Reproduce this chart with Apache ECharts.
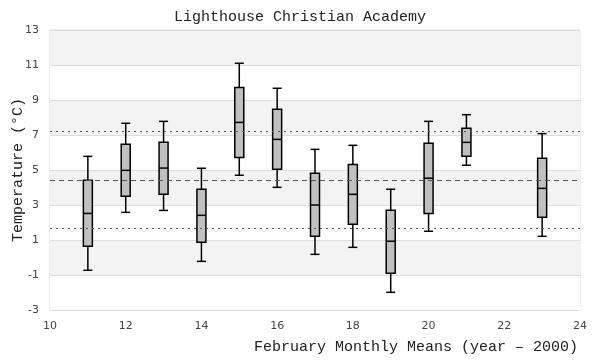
<!DOCTYPE html>
<html><head><meta charset="utf-8">
<script src="https://cdn.jsdelivr.net/npm/echarts@6/dist/echarts.min.js"></script>
<style>html,body{margin:0;padding:0;background:#fff}#c{width:600px;height:360px}</style>
</head><body><div id="c"></div>
<script>
var years = [11, 12, 13, 14, 15, 16, 17, 18, 19, 20, 21, 23];
var whiskerLow = [-0.73, 2.58, 2.69, -0.22, 4.70, 4.01, 0.18, 0.58, -1.99, 1.50, 5.27, 1.21];
var q1 = [0.64, 3.50, 3.61, 0.87, 5.72, 5.04, 1.21, 1.90, -0.90, 2.52, 5.78, 2.30];
var median = [2.52, 4.98, 5.11, 2.41, 7.72, 6.75, 3.00, 3.61, 0.93, 4.53, 6.58, 3.95];
var q3 = [4.41, 6.47, 6.58, 3.90, 9.72, 8.47, 4.81, 5.32, 2.70, 6.53, 7.38, 5.67];
var whiskerHigh = [5.78, 7.67, 7.78, 5.10, 11.10, 9.67, 6.18, 6.41, 3.90, 7.78, 8.16, 7.08];
var meanLine = 4.41;
var upperLine = 7.21;
var lowerLine = 1.67;

var data = years.map(function (y, i) {
  return [y, whiskerLow[i], q1[i], median[i], q3[i], whiskerHigh[i]];
});

var chart = echarts.init(document.getElementById('c'), null, {renderer: 'canvas'});
var mono = 'Liberation Mono';
chart.setOption({
  animation: false,
  title: [{
    text: 'Lighthouse Christian Academy', left: 'center', top: 5,
    textStyle: {fontFamily: mono, fontSize: 15, fontWeight: 'normal', color: '#222'}
  }, {
    text: 'February Monthly Means (year \u2013 2000)', right: 22, top: 340,
    padding: 0,
    textStyle: {fontFamily: mono, fontSize: 15, fontWeight: 'normal', color: '#222'}
  }],
  grid: {left: 50, right: 20, top: 30, bottom: 50, show: true, borderColor: '#ddd', borderWidth: 1,
    backgroundColor: 'transparent', outerBoundsMode: 'none', containLabel: false},
  xAxis: {
    type: 'value', min: 10, max: 24, interval: 2,
    axisLine: {show: false}, axisTick: {show: false}, splitLine: {show: false},
    axisLabel: {color: '#444', fontSize: 11, fontFamily: 'DejaVu Sans', margin: 11}
  },
  yAxis: {
    type: 'value', min: -3, max: 13, interval: 2,
    name: 'Temperature (\u00b0C)', nameLocation: 'middle', nameGap: 24, nameMoveOverlap: false,
    nameTextStyle: {fontFamily: mono, fontSize: 15, color: '#222'},
    axisLine: {show: false}, axisTick: {show: false},
    splitLine: {show: true, lineStyle: {color: '#ddd', width: 1}},
    splitArea: {show: true, areaStyle: {color: ['#ffffff', '#f3f3f3']}},
    axisLabel: {color: '#444', fontSize: 11, fontFamily: 'DejaVu Sans', margin: 11}
  },
  series: [{
    type: 'custom',
    data: data,
    encode: {x: 0, y: [1, 2, 3, 4, 5]},
    markLine: {
      silent: true, symbol: 'none', label: {show: false},
      data: [
        {yAxis: meanLine, lineStyle: {type: [5, 4], color: '#555', width: 1}},
        {yAxis: upperLine, lineStyle: {type: [2, 4], color: '#555', width: 1}},
        {yAxis: lowerLine, lineStyle: {type: [2, 4], color: '#555', width: 1}}
      ]
    },
    renderItem: function (params, api) {
      var x = api.value(0);
      var pLo = api.coord([x, api.value(1)]);
      var pQ1 = api.coord([x, api.value(2)]);
      var pMed = api.coord([x, api.value(3)]);
      var pQ3 = api.coord([x, api.value(4)]);
      var pHi = api.coord([x, api.value(5)]);
      var cx = pLo[0];
      var hw = 4.5;
      var st = {stroke: '#000', lineWidth: 1.5};
      return {
        type: 'group',
        children: [
          {type: 'line', shape: {x1: cx, y1: pHi[1], x2: cx, y2: pQ3[1]}, style: st},
          {type: 'line', shape: {x1: cx, y1: pQ1[1], x2: cx, y2: pLo[1]}, style: st},
          {type: 'line', shape: {x1: cx - hw, y1: pHi[1], x2: cx + hw, y2: pHi[1]}, style: st},
          {type: 'line', shape: {x1: cx - hw, y1: pLo[1], x2: cx + hw, y2: pLo[1]}, style: st},
          {type: 'rect', shape: {x: cx - hw, y: pQ3[1], width: hw * 2, height: pQ1[1] - pQ3[1]}, style: {fill: '#c0c0c0', stroke: '#000', lineWidth: 1.5}},
          {type: 'line', shape: {x1: cx - hw, y1: pMed[1], x2: cx + hw, y2: pMed[1]}, style: st}
        ]
      };
    }
  }]
});
</script></body></html>
